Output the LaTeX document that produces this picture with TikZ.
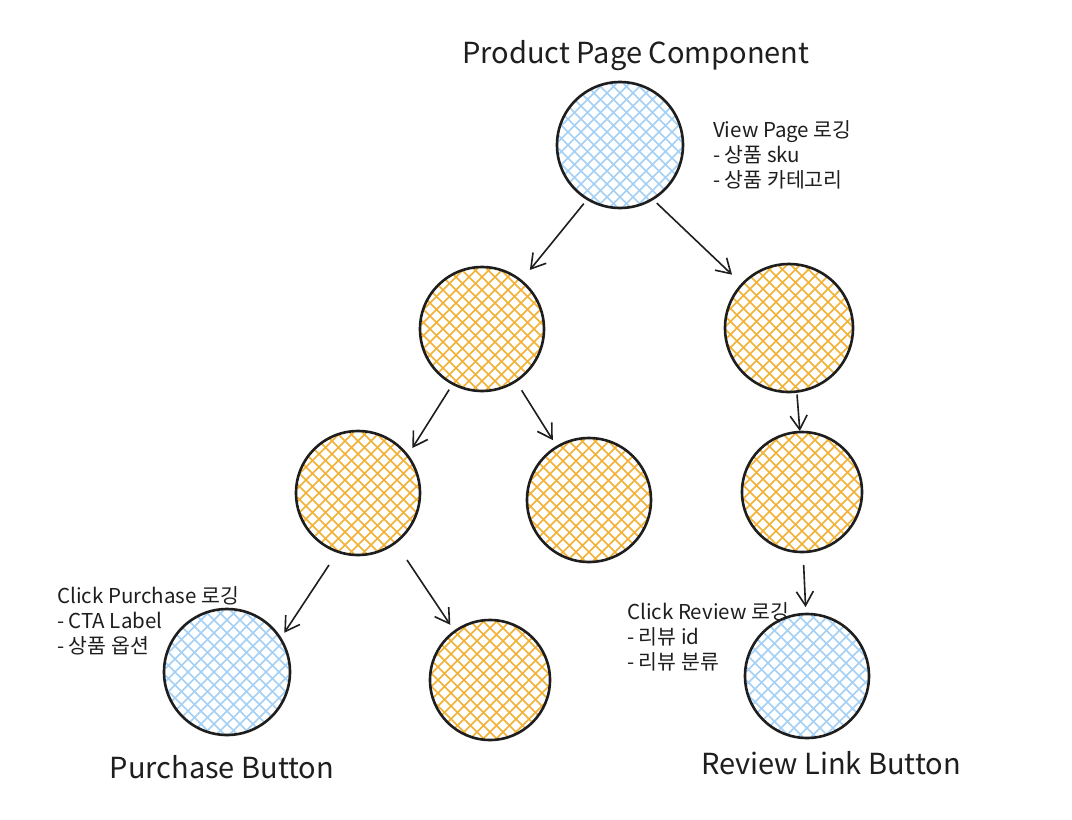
\documentclass[tikz,border=0pt]{standalone}
\usepackage{fontspec}
\setmainfont{Noto Sans CJK KR}
\usetikzlibrary{arrows.meta}
\definecolor{ink}{HTML}{1E1E1E}
\definecolor{hblue}{HTML}{A5D0F5}
\definecolor{horange}{HTML}{F2B134}
\tikzset{
  ball/.style={circle, draw=ink, line width=2.6pt, inner sep=0pt, outer sep=0pt, minimum size=#1},
  hatch/.style={path picture={
    \foreach \i in {-104,-91,...,104}{
      \draw[line width=1.6pt, #1] ([xshift=\i pt-110pt, yshift=-110pt]path picture bounding box.center) -- ++(220pt,220pt);
      \draw[line width=1.6pt, #1] ([xshift=\i pt-110pt, yshift=110pt]path picture bounding box.center) -- ++(220pt,-220pt);
    }}},
  arr/.style={draw=ink, line width=1.6pt, -{Straight Barb[length=14pt,width=17pt,line width=1.6pt]}},
  title/.style={text=ink, font=\fontsize{29}{33}\selectfont, inner sep=0pt},
  note/.style={text=ink, font=\fontsize{20.5}{25}\selectfont, inner sep=0pt, align=left, anchor=north west},
}
\begin{document}
\begin{tikzpicture}[x=1pt,y=-1pt]
\useasboundingbox (0,0) rectangle (1072,820);
\fill[white] (0,0) rectangle (1072,820);

\node[ball=126pt, hatch=hblue]   (root) at (620,145) {};
\node[ball=124pt, hatch=horange] (a) at (482,329) {};
\node[ball=128pt, hatch=horange] (b) at (789,328) {};
\node[ball=124pt, hatch=horange] (c) at (358,493) {};
\node[ball=124pt, hatch=horange] (d) at (589,500) {};
\node[ball=120pt, hatch=horange] (e) at (802,492) {};
\node[ball=126pt, hatch=hblue]   (f) at (227,672) {};
\node[ball=120pt, hatch=horange] (g) at (490,680) {};
\node[ball=124pt, hatch=hblue]   (h) at (807,676) {};

\draw[arr, shorten <=6pt, shorten >=14pt] (root.239) -- (a.51);
\draw[arr, shorten <=6pt, shorten >=14pt] (root.301) -- (b.137);
\draw[arr, shorten <=7pt, shorten >=9pt] (a.242) -- (c.37);
\draw[arr, shorten <=11pt, shorten >=8pt] (a.303) -- (d.121);
\draw[arr, shorten <=3pt, shorten >=1pt] (b.277) -- (e.92);
\draw[arr, shorten <=16pt, shorten >=7pt] (c.251) -- (f.32);
\draw[arr, shorten <=21pt, shorten >=8pt] (c.307) -- (g.126);
\draw[arr, shorten <=13pt, shorten >=7pt] (e.271) -- (h.91);

\node[title] (t1) at (636,56) {Product Page Component};
\node[title] (t2) at (222,767) {Purchase Button};
\node[title] (t3) at (831,763) {Review Link Button};

\node[note] (n1) at (713,120) {View Page 로깅\\- 상품 sku\\- 상품 카테고리};
\node[note] (n2) at (57,586) {Click Purchase 로깅\\- CTA Label\\- 상품 옵션};
\node[note] (n3) at (627,602) {Click Review 로깅\\- 리뷰 id\\- 리뷰 분류};
\end{tikzpicture}
\end{document}
